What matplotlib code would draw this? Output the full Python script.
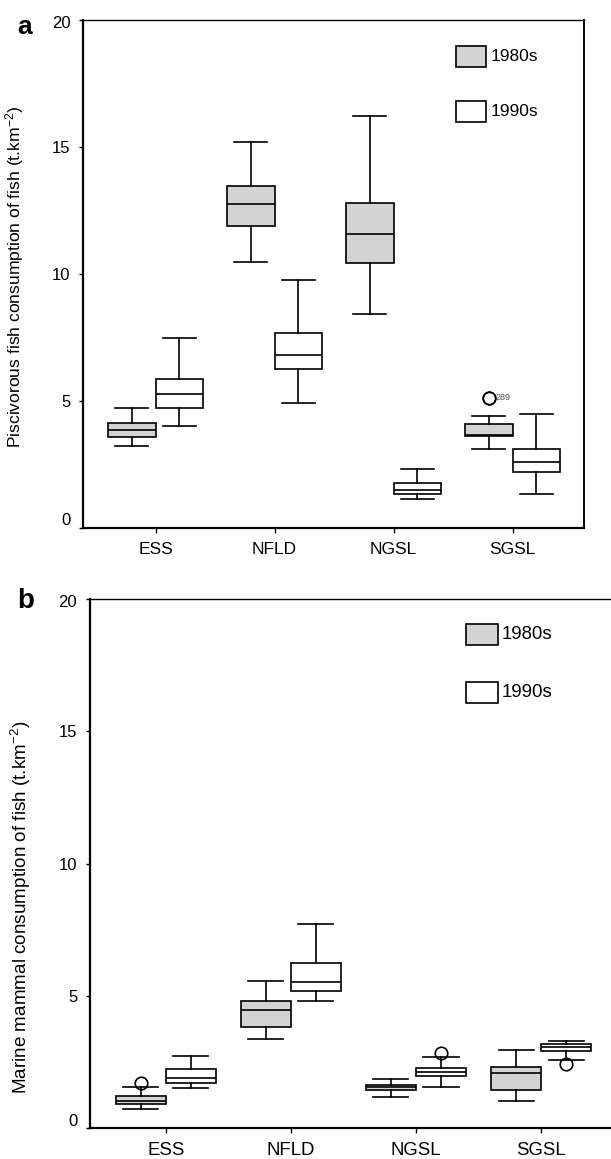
import matplotlib
matplotlib.use('Agg')
import matplotlib.pyplot as plt
from matplotlib.patches import Rectangle
from matplotlib.transforms import ScaledTranslation

plt.rcParams['font.family'] = ['Liberation Sans', 'DejaVu Sans']
plt.rcParams['mathtext.fontset'] = 'custom'
plt.rcParams['mathtext.rm'] = 'Liberation Sans'
plt.rcParams['mathtext.it'] = 'Liberation Sans:italic'

# ---------------- data ----------------
regions = ['ESS', 'NFLD', 'NGSL', 'SGSL']
yticks = [0, 5, 10, 15, 20]
series = ['1980s', '1990s']

# Panel a: piscivorous fish consumption of fish
a80_whislo = [3.21, 10.48, 8.43, 3.09]
a80_q1 = [3.57, 11.88, 10.42, 3.63]
a80_med = [3.86, 12.74, 11.59, 3.67]
a80_q3 = [4.11, 13.45, 12.78, 4.07]
a80_whishi = [4.72, 15.22, 16.24, 4.42]
a80_fliers = [[], [], [], [5.13, 5.13]]

a90_whislo = [3.99, 4.91, 1.15, 1.34]
a90_q1 = [4.72, 6.25, 1.34, 2.19]
a90_med = [5.28, 6.79, 1.47, 2.57]
a90_q3 = [5.87, 7.68, 1.76, 3.09]
a90_whishi = [7.46, 9.75, 2.30, 4.48]
a90_fliers = [[], [], [], []]

a_flier_label = '289'
a_flier_value = 5.13

# Panel b: marine mammal consumption of fish
b80_whislo = [0.71, 3.36, 1.16, 1.03]
b80_q1 = [0.91, 3.83, 1.45, 1.45]
b80_med = [1.03, 4.46, 1.54, 2.09]
b80_q3 = [1.22, 4.81, 1.62, 2.32]
b80_whishi = [1.56, 5.57, 1.85, 2.95]
b80_fliers = [[1.71], [], [], []]

b90_whislo = [1.51, 4.81, 1.56, 2.56]
b90_q1 = [1.69, 5.17, 1.97, 2.91]
b90_med = [1.88, 5.52, 2.11, 3.05]
b90_q3 = [2.22, 6.22, 2.26, 3.19]
b90_whishi = [2.72, 7.71, 2.67, 3.30]
b90_fliers = [[], [], [2.85], [2.43]]

GRAY = '#d3d3d3'


def make_stats(lo, q1, med, q3, hi, fl):
    return [dict(whislo=lo[i], q1=q1[i], med=med[i], q3=q3[i], whishi=hi[i],
                 fliers=fl[i]) for i in range(len(lo))]


def draw_boxes(ax, stats, offset, face):
    pos = [i + 1 + offset for i in range(len(stats))]
    ax.bxp(stats, positions=pos, widths=0.4, patch_artist=True,
           showfliers=True, capwidths=0.28,
           boxprops=dict(facecolor=face, edgecolor='black', linewidth=1.2),
           medianprops=dict(color='black', linewidth=1.2),
           whiskerprops=dict(color='black', linewidth=1.2),
           capprops=dict(color='black', linewidth=1.2),
           flierprops=dict(marker='o', markerfacecolor='none',
                           markeredgecolor='black', markersize=9,
                           markeredgewidth=1.2))


def style_axes(ax, fig, ylabel, ylabel_y, ylabel_x, yfs, xfs, labfs):
    ax.set_xlim(0.393, 4.6)
    ax.set_ylim(0, 20)
    ax.set_yticks(yticks)
    ax.set_xticks(range(1, len(regions) + 1))
    ax.set_xticklabels(regions)
    ax.tick_params(axis='y', direction='out', length=3.2, width=1.0,
                   labelsize=yfs, pad=6.0)
    ax.tick_params(axis='x', direction='out', length=3.4, width=1.0,
                   labelsize=xfs, pad=7.0)
    ax.spines['left'].set_linewidth(1.6)
    ax.spines['bottom'].set_linewidth(1.6)
    ax.spines['right'].set_linewidth(1.4)
    ax.spines['top'].set_linewidth(1.0)
    ax.set_ylabel(ylabel, fontsize=labfs)
    ax.yaxis.set_label_coords(ylabel_x, ylabel_y)
    labels = ax.get_yticklabels()
    labels[0].set_transform(labels[0].get_transform() +
                            ScaledTranslation(0, 6 / 72, fig.dpi_scale_trans))
    labels[-1].set_transform(labels[-1].get_transform() +
                             ScaledTranslation(0, -1.3 / 72, fig.dpi_scale_trans))


def legend(ax, x0, w, y1, y2, h, tx, fs):
    for y, face, lab in [(y1, GRAY, series[0]), (y2, 'white', series[1])]:
        ax.add_patch(Rectangle((x0, y), w, h, transform=ax.transAxes,
                               facecolor=face, edgecolor='black',
                               linewidth=1.2, clip_on=False, zorder=5))
        ax.text(tx, y + h / 2, lab, transform=ax.transAxes, ha='left',
                va='center', fontsize=fs)


fig = plt.figure(figsize=(6.11, 11.59), dpi=100)

# ---------- panel a ----------
axa = fig.add_axes([0.1363, 0.5447, 0.8195, 0.4378])
draw_boxes(axa, make_stats(a80_whislo, a80_q1, a80_med, a80_q3, a80_whishi,
                           a80_fliers), -0.2, GRAY)
draw_boxes(axa, make_stats(a90_whislo, a90_q1, a90_med, a90_q3, a90_whishi,
                           a90_fliers), 0.2, 'white')
style_axes(axa, fig,
           'Piscivorous fish consumption of fish (t.km$^{-2}$)',
           0.495, -0.114, 12, 12.5, 12.6)
axa.text(4 - 0.2 + 0.055, a_flier_value, a_flier_label, fontsize=6.5,
         color='#555555', ha='left', va='center')
legend(axa, 0.744, 0.060, 0.9086, 0.7996, 0.0407, 0.8137, 12.5)
fig.text(25 / 611, 1 - 26.7 / 1159, 'a', fontsize=19, fontweight='bold',
         ha='center', va='center')

# ---------- panel b ----------
axb = fig.add_axes([0.1473, 0.02675, 0.861, 0.4564])
draw_boxes(axb, make_stats(b80_whislo, b80_q1, b80_med, b80_q3, b80_whishi,
                           b80_fliers), -0.2, GRAY)
draw_boxes(axb, make_stats(b90_whislo, b90_q1, b90_med, b90_q3, b90_whishi,
                           b90_fliers), 0.2, 'white')
style_axes(axb, fig,
           'Marine mammal consumption of fish (t.km$^{-2}$)',
           0.418, -0.109, 12, 13.4, 13.6)
legend(axb, 0.714, 0.0608, 0.913, 0.803, 0.0403, 0.7827, 13.4)
fig.text(25.3 / 611, 1 - 601 / 1159, 'b', fontsize=20, fontweight='bold',
         ha='center', va='center')

fig.savefig('out.png', dpi=100)
